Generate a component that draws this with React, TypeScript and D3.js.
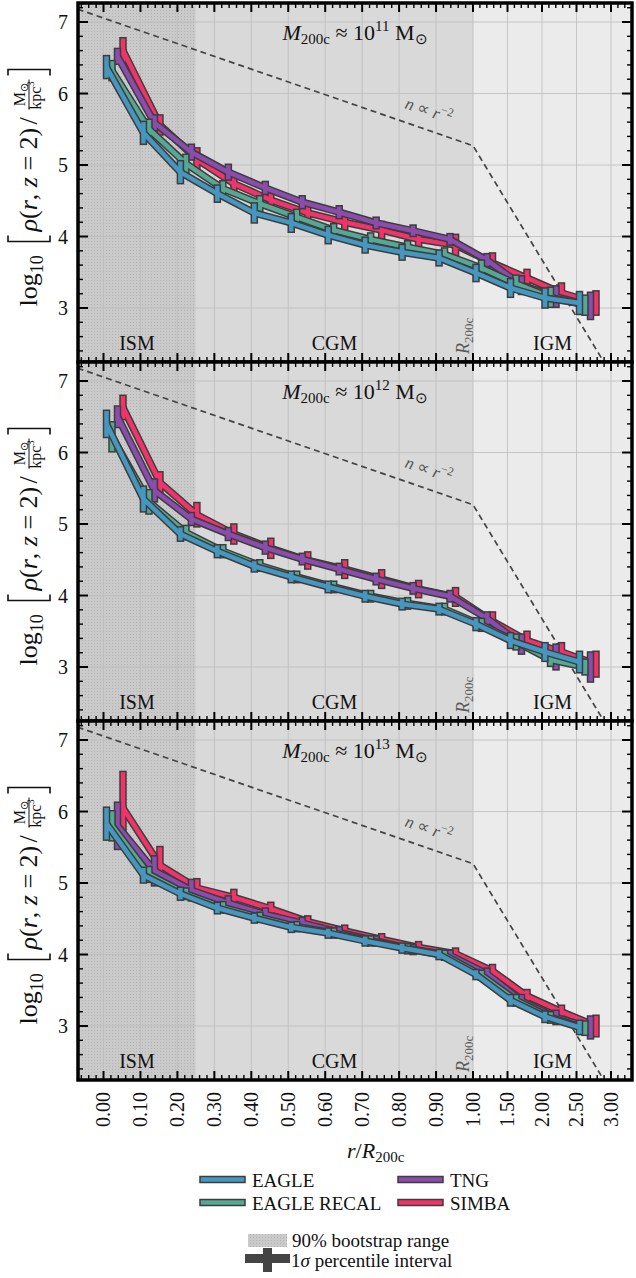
import React, { useEffect, useRef } from 'react';
import * as d3 from 'd3';

// radial bins (r / R200c) and axis ticks
const rBins = [0, 0.1, 0.2, 0.3, 0.4, 0.5, 0.6, 0.7, 0.8, 0.9, 1.0, 1.5, 2.0, 2.5];
const xTicks = [0, 0.1, 0.2, 0.3, 0.4, 0.5, 0.6, 0.7, 0.8, 0.9, 1.0, 1.5, 2.0, 2.5, 3.0];
const yTicks = [3, 4, 5, 6, 7];
const regionNames = ['ISM', 'CGM', 'IGM'];
const regionEdges = [0.25, 1.0];
const massExponents = ['11', '12', '13'];

const seriesNames = ['EAGLE', 'EAGLE RECAL', 'TNG', 'SIMBA'];
const seriesColors = ['#4597bf', '#55a891', '#8a4cad', '#f2336a'];

// n ~ r^-2 guide
const guideR = [-0.07, 1.0, 3.3];
const guideRho = [7.18, 5.27, 1.6];

// M200c ~ 1e11
const m11Eagle = [6.37, 5.45, 4.9, 4.6, 4.33, 4.19, 4.02, 3.88, 3.78, 3.7, 3.49, 3.28, 3.14, 3.07];
const m11EagleErr = [0.15, 0.15, 0.15, 0.11, 0.13, 0.12, 0.11, 0.1, 0.1, 0.1, 0.11, 0.12, 0.13, 0.15];
const m11Recal = [6.32, 5.5, 5.02, 4.67, 4.46, 4.27, 4.09, 3.96, 3.85, 3.75, 3.56, 3.34, 3.15, 3.04];
const m11RecalErr = [0.13, 0.13, 0.12, 0.1, 0.1, 0.1, 0.08, 0.08, 0.08, 0.08, 0.1, 0.11, 0.13, 0.13];
const m11Tng = [6.52, 5.59, 5.18, 4.9, 4.68, 4.48, 4.34, 4.19, 4.08, 3.96, 3.67, 3.32, 3.16, 3.03];
const m11TngErr = [0.1, 0.1, 0.1, 0.1, 0.08, 0.08, 0.08, 0.07, 0.07, 0.07, 0.08, 0.12, 0.14, 0.18];
const m11Simba = [6.6, 5.56, 5.08, 4.74, 4.51, 4.33, 4.2, 4.09, 3.96, 3.88, 3.63, 3.42, 3.21, 3.07];
const m11SimbaErr = [0.17, 0.13, 0.15, 0.12, 0.11, 0.11, 0.11, 0.11, 0.12, 0.14, 0.13, 0.11, 0.13, 0.16];

// M200c ~ 1e12
const m12Eagle = [6.4, 5.35, 4.86, 4.62, 4.41, 4.26, 4.12, 3.99, 3.88, 3.81, 3.6, 3.37, 3.21, 3.07];
const m12EagleErr = [0.18, 0.17, 0.09, 0.08, 0.07, 0.07, 0.07, 0.07, 0.07, 0.07, 0.08, 0.1, 0.12, 0.14];
const m12Recal = [6.22, 5.31, 4.88, 4.62, 4.42, 4.26, 4.12, 3.99, 3.89, 3.81, 3.59, 3.35, 3.1, 3.0];
const m12RecalErr = [0.2, 0.16, 0.09, 0.08, 0.07, 0.07, 0.07, 0.07, 0.07, 0.07, 0.08, 0.1, 0.08, 0.1];
const m12Tng = [6.5, 5.47, 5.07, 4.86, 4.67, 4.51, 4.37, 4.23, 4.1, 3.99, 3.68, 3.32, 3.14, 3.0];
const m12TngErr = [0.14, 0.15, 0.08, 0.08, 0.08, 0.07, 0.07, 0.07, 0.07, 0.07, 0.08, 0.13, 0.17, 0.2];
const m12Simba = [6.63, 5.58, 5.13, 4.86, 4.66, 4.49, 4.37, 4.23, 4.09, 3.98, 3.64, 3.37, 3.21, 3.04];
const m12SimbaErr = [0.16, 0.14, 0.16, 0.13, 0.13, 0.11, 0.12, 0.12, 0.11, 0.12, 0.12, 0.12, 0.12, 0.17];

// M200c ~ 1e13
const m13Eagle = [5.83, 5.11, 4.85, 4.65, 4.51, 4.38, 4.3, 4.19, 4.09, 4.0, 3.72, 3.36, 3.13, 2.98];
const m13EagleErr = [0.22, 0.1, 0.08, 0.07, 0.06, 0.06, 0.06, 0.06, 0.06, 0.06, 0.06, 0.07, 0.07, 0.09];
const m13Recal = [5.8, 5.12, 4.85, 4.66, 4.52, 4.39, 4.3, 4.19, 4.08, 3.99, 3.71, 3.36, 3.12, 2.97];
const m13RecalErr = [0.2, 0.1, 0.07, 0.07, 0.06, 0.06, 0.06, 0.06, 0.06, 0.06, 0.06, 0.07, 0.07, 0.09];
const m13Tng = [5.8, 5.17, 4.9, 4.72, 4.56, 4.44, 4.31, 4.19, 4.07, 3.99, 3.73, 3.35, 3.12, 2.98];
const m13TngErr = [0.32, 0.2, 0.14, 0.09, 0.08, 0.07, 0.07, 0.06, 0.06, 0.06, 0.07, 0.08, 0.09, 0.15];
const m13Simba = [6.05, 5.25, 4.93, 4.8, 4.64, 4.46, 4.33, 4.21, 4.1, 4.01, 3.77, 3.42, 3.2, 3.0];
const m13SimbaErr = [0.5, 0.25, 0.12, 0.1, 0.08, 0.07, 0.07, 0.07, 0.07, 0.07, 0.08, 0.08, 0.08, 0.14];

const panels = [
  { vals: [m11Eagle, m11Recal, m11Tng, m11Simba], errs: [m11EagleErr, m11RecalErr, m11TngErr, m11SimbaErr] },
  { vals: [m12Eagle, m12Recal, m12Tng, m12Simba], errs: [m12EagleErr, m12RecalErr, m12TngErr, m12SimbaErr] },
  { vals: [m13Eagle, m13Recal, m13Tng, m13Simba], errs: [m13EagleErr, m13RecalErr, m13TngErr, m13SimbaErr] },
];

const W = 636;
const H = 1278;
const axLeft = 78;
const axRight = 632;
const panelTops = [3, 362, 721];
const panelH = 359;
const pxOffsets = [3, 8.5, 14, 19.5];
const drawOrder = [3, 2, 1, 0];
const edge = '#3d3d3d';
const serif = "'Liberation Serif', 'Times New Roman', Times, 'Nimbus Roman', serif";

export default function App() {
  const svgRef = useRef<SVGSVGElement>(null);

  useEffect(() => {
    const svg = d3.select(svgRef.current);
    svg.selectAll('*').remove();

    const defs = svg.append('defs');
    const pat = defs.append('pattern').attr('id', 'stipple')
      .attr('width', 3).attr('height', 3).attr('patternUnits', 'userSpaceOnUse');
    pat.append('rect').attr('width', 3).attr('height', 3).attr('fill', '#cacaca');
    pat.append('rect').attr('x', 1).attr('y', 1).attr('width', 1).attr('height', 1).attr('fill', '#b2b2b2');

    const root = svg.append('g').attr('font-family', serif);

    const x = d3.scaleLinear().domain([0, 1, 3]).range([103.5, 473, 611]);
    const xMin = x.invert(axLeft);
    const xMax = x.invert(axRight);

    // minor x ticks
    const xMinor: number[] = [-0.02, -0.04, -0.06];
    for (let i = 0; i < xTicks.length - 1; i++) {
      const a = xTicks[i], b = xTicks[i + 1];
      for (let k = 1; k < 5; k++) xMinor.push(a + (b - a) * k / 5);
    }
    xMinor.push(3.1, 3.2);
    const yMinor: number[] = [];
    for (let v = 2.4; v < 7.25; v += 0.2) yMinor.push(+v.toFixed(1));

    panels.forEach((p, pi) => {
      const top = panelTops[pi];
      const bottom = top + panelH;
      const y = d3.scaleLinear().domain([2.245, 7.266]).range([bottom, top]);
      const g = root.append('g');

      defs.append('clipPath').attr('id', `clip${pi}`)
        .append('rect').attr('x', axLeft).attr('y', top).attr('width', axRight - axLeft).attr('height', panelH);

      // shaded regions
      const bounds = [xMin, ...regionEdges, xMax];
      const fills = ['url(#stipple)', '#d9d9d9', '#ebebeb'];
      regionNames.forEach((name, i) => {
        g.append('rect')
          .attr('x', x(bounds[i])).attr('y', top)
          .attr('width', x(bounds[i + 1]) - x(bounds[i])).attr('height', panelH)
          .attr('fill', fills[i]);
      });

      // grid
      g.selectAll('.gx').data(xTicks).enter().append('line')
        .attr('x1', d => x(d)).attr('x2', d => x(d)).attr('y1', top).attr('y2', bottom)
        .attr('stroke', '#bdbdbd').attr('stroke-width', 1).attr('opacity', 0.8);
      g.selectAll('.gy').data(yTicks).enter().append('line')
        .attr('x1', axLeft).attr('x2', axRight).attr('y1', d => y(d)).attr('y2', d => y(d))
        .attr('stroke', '#bdbdbd').attr('stroke-width', 1).attr('opacity', 0.8);

      // region labels
      regionNames.forEach((name, i) => {
        g.append('text')
          .attr('x', x((bounds[i] + bounds[i + 1]) / 2)).attr('y', top + 347)
          .attr('text-anchor', 'middle').attr('font-size', 20).attr('fill', '#111')
          .text(name);
      });

      // R200c label
      const rl = g.append('text')
        .attr('transform', `translate(469, ${top + 351}) rotate(-90)`)
        .attr('fill', '#5a5a5a').attr('font-size', 18);
      rl.append('tspan').attr('font-style', 'italic').text('R');
      rl.append('tspan').attr('font-size', 13).attr('dy', 4).text('200c');

      // n ~ r^-2 guide
      const clipG = g.append('g').attr('clip-path', `url(#clip${pi})`);
      clipG.append('path')
        .attr('d', d3.line<number>().x((d, i) => x(guideR[i])).y(d => y(d))(guideRho))
        .attr('fill', 'none').attr('stroke', '#444').attr('stroke-width', 1.7)
        .attr('stroke-dasharray', '6,4');
      const gl = g.append('text')
        .attr('transform', `translate(427, ${top + 113}) rotate(19)`)
        .attr('text-anchor', 'middle').attr('font-size', 17).attr('fill', '#555');
      gl.append('tspan').attr('font-style', 'italic').text('n');
      gl.append('tspan').text(' ∝ ');
      gl.append('tspan').attr('font-style', 'italic').text('r');
      gl.append('tspan').attr('font-size', 12).attr('dy', -7).text('−2');

      // series
      drawOrder.forEach(si => {
        const vals = p.vals[si];
        const errs = p.errs[si];
        const off = pxOffsets[si];
        const sg = clipG.append('g');
        const line = d3.line<number>().x((d, i) => x(rBins[i]) + off).y(d => y(d));
        sg.append('path').attr('d', line(vals)).attr('fill', 'none')
          .attr('stroke', edge).attr('stroke-width', 7.5).attr('stroke-linejoin', 'round');
        sg.selectAll('.eo').data(vals).enter().append('line')
          .attr('x1', (d, i) => x(rBins[i]) + off).attr('x2', (d, i) => x(rBins[i]) + off)
          .attr('y1', (d, i) => y(d + errs[i]) - 1.5).attr('y2', (d, i) => y(d - errs[i]) + 1.5)
          .attr('stroke', edge).attr('stroke-width', 7.5);
        sg.append('path').attr('d', line(vals)).attr('fill', 'none')
          .attr('stroke', seriesColors[si]).attr('stroke-width', 4.5).attr('stroke-linejoin', 'round');
        sg.selectAll('.ei').data(vals).enter().append('line')
          .attr('x1', (d, i) => x(rBins[i]) + off).attr('x2', (d, i) => x(rBins[i]) + off)
          .attr('y1', (d, i) => y(d + errs[i])).attr('y2', (d, i) => y(d - errs[i]))
          .attr('stroke', seriesColors[si]).attr('stroke-width', 4.5);
      });

      // title
      const tt = g.append('text').attr('x', 355).attr('y', top + 37)
        .attr('text-anchor', 'middle').attr('font-size', 22).attr('fill', '#111');
      tt.append('tspan').attr('font-style', 'italic').text('M');
      tt.append('tspan').attr('font-size', 15).attr('dy', 4).text('200c');
      tt.append('tspan').attr('dy', -4).text(' ≈ 10');
      tt.append('tspan').attr('font-size', 15).attr('dy', -9).text(massExponents[pi]);
      tt.append('tspan').attr('dy', 9).text(' M');
      tt.append('tspan').attr('font-size', 15).attr('dy', 4).text('⊙');

      // ticks (inward on all sides)
      const tk = g.append('g').attr('stroke', '#000');
      xTicks.forEach(t => {
        tk.append('line').attr('x1', x(t)).attr('x2', x(t)).attr('y1', bottom).attr('y2', bottom - 9).attr('stroke-width', 2);
        tk.append('line').attr('x1', x(t)).attr('x2', x(t)).attr('y1', top).attr('y2', top + 9).attr('stroke-width', 2);
      });
      xMinor.forEach(t => {
        tk.append('line').attr('x1', x(t)).attr('x2', x(t)).attr('y1', bottom).attr('y2', bottom - 5).attr('stroke-width', 1.4);
        tk.append('line').attr('x1', x(t)).attr('x2', x(t)).attr('y1', top).attr('y2', top + 5).attr('stroke-width', 1.4);
      });
      yTicks.forEach(t => {
        tk.append('line').attr('x1', axLeft).attr('x2', axLeft + 10).attr('y1', y(t)).attr('y2', y(t)).attr('stroke-width', 2);
        tk.append('line').attr('x1', axRight).attr('x2', axRight - 10).attr('y1', y(t)).attr('y2', y(t)).attr('stroke-width', 2);
      });
      yMinor.forEach(t => {
        if (yTicks.includes(t)) return;
        tk.append('line').attr('x1', axLeft).attr('x2', axLeft + 5).attr('y1', y(t)).attr('y2', y(t)).attr('stroke-width', 1.4);
        tk.append('line').attr('x1', axRight).attr('x2', axRight - 5).attr('y1', y(t)).attr('y2', y(t)).attr('stroke-width', 1.4);
      });

      // frame
      g.append('rect').attr('x', axLeft).attr('y', top).attr('width', axRight - axLeft).attr('height', panelH)
        .attr('fill', 'none').attr('stroke', '#000').attr('stroke-width', 3.5);

      // y tick labels
      g.selectAll('.yl').data(yTicks).enter().append('text')
        .attr('x', 68).attr('y', d => y(d)).attr('dy', '0.35em')
        .attr('text-anchor', 'end').attr('font-size', 20).attr('fill', '#111')
        .text(d => d);

      // y axis title
      const lab = g.append('g')
        .attr('transform', `translate(37, ${top + panelH / 2 + 1}) rotate(-90)`)
        .attr('fill', '#111');
      const t1 = lab.append('text').attr('x', -123).attr('y', 0).attr('font-size', 26);
      t1.append('tspan').text('log');
      t1.append('tspan').attr('font-size', 18).attr('dy', 6).text('10');
      lab.append('path').attr('d', 'M -52 -29 L -58 -29 L -58 13 L -52 13')
        .attr('fill', 'none').attr('stroke', '#111').attr('stroke-width', 1.6);
      const t2 = lab.append('text').attr('x', -48).attr('y', 0).attr('font-size', 26);
      t2.append('tspan').attr('font-style', 'italic').text('ρ');
      t2.append('tspan').text('(');
      t2.append('tspan').attr('font-style', 'italic').text('r');
      t2.append('tspan').text(', ');
      t2.append('tspan').attr('font-style', 'italic').text('z');
      t2.append('tspan').text(' = 2)');
      lab.append('text').attr('x', 59).attr('y', 0).attr('font-size', 26).text('/');
      const num = lab.append('text').attr('x', 89).attr('y', -12).attr('text-anchor', 'middle').attr('font-size', 16);
      num.append('tspan').text('M');
      num.append('tspan').attr('font-size', 11).attr('dy', 3).text('⊙');
      lab.append('line').attr('x1', 74).attr('x2', 104).attr('y1', -8).attr('y2', -8)
        .attr('stroke', '#111').attr('stroke-width', 1);
      const den = lab.append('text').attr('x', 88).attr('y', 4).attr('text-anchor', 'middle').attr('font-size', 16);
      den.append('tspan').text('kpc');
      den.append('tspan').attr('font-size', 11).attr('dy', -7).text('3');
      lab.append('path').attr('d', 'M 108 -29 L 114 -29 L 114 13 L 108 13')
        .attr('fill', 'none').attr('stroke', '#111').attr('stroke-width', 1.6);
    });

    // x tick labels (bottom panel)
    const bottomY = panelTops[2] + panelH;
    root.selectAll('.xl').data(xTicks).enter().append('text')
      .attr('transform', d => `translate(${x(d) + 6.5}, ${bottomY + 12}) rotate(-90)`)
      .attr('text-anchor', 'end').attr('font-size', 20).attr('fill', '#111')
      .text(d => d.toFixed(2));

    // x axis label
    const xl = root.append('text').attr('x', 347).attr('y', 1158).attr('font-size', 22).attr('fill', '#111');
    xl.append('tspan').attr('font-style', 'italic').text('r');
    xl.append('tspan').text('/');
    xl.append('tspan').attr('font-style', 'italic').text('R');
    xl.append('tspan').attr('font-size', 15).attr('dy', 4).text('200c');

    // series legend
    const legPos = [[200, 1179.5], [200, 1202.5], [398, 1179.5], [398, 1202.5]];
    seriesNames.forEach((name, i) => {
      const [lx, ly] = legPos[i];
      root.append('rect').attr('x', lx).attr('y', ly - 3).attr('width', 45).attr('height', 6)
        .attr('fill', seriesColors[i]).attr('stroke', edge).attr('stroke-width', 1.5);
      root.append('text').attr('x', lx + 52).attr('y', ly + 7).attr('font-size', 19).attr('fill', '#111').text(name);
    });

    // style legend
    root.append('rect').attr('x', 248).attr('y', 1234).attr('width', 39).attr('height', 13).attr('fill', 'url(#stipple)');
    root.append('text').attr('x', 292).attr('y', 1247).attr('font-size', 19).attr('fill', '#111').text('90% bootstrap range');
    root.append('rect').attr('x', 245).attr('y', 1254).attr('width', 45).attr('height', 9).attr('fill', '#444');
    root.append('rect').attr('x', 263).attr('y', 1248).attr('width', 9).attr('height', 24).attr('fill', '#444');
    const sl = root.append('text').attr('x', 291).attr('y', 1267).attr('font-size', 19).attr('fill', '#111');
    sl.append('tspan').text('1');
    sl.append('tspan').attr('font-style', 'italic').text('σ');
    sl.append('tspan').text(' percentile interval');
  }, []);

  return (
    <svg
      ref={svgRef}
      width={W}
      height={H}
      style={{ position: 'absolute', left: 0, top: 0, background: '#fff' }}
    />
  );
}
